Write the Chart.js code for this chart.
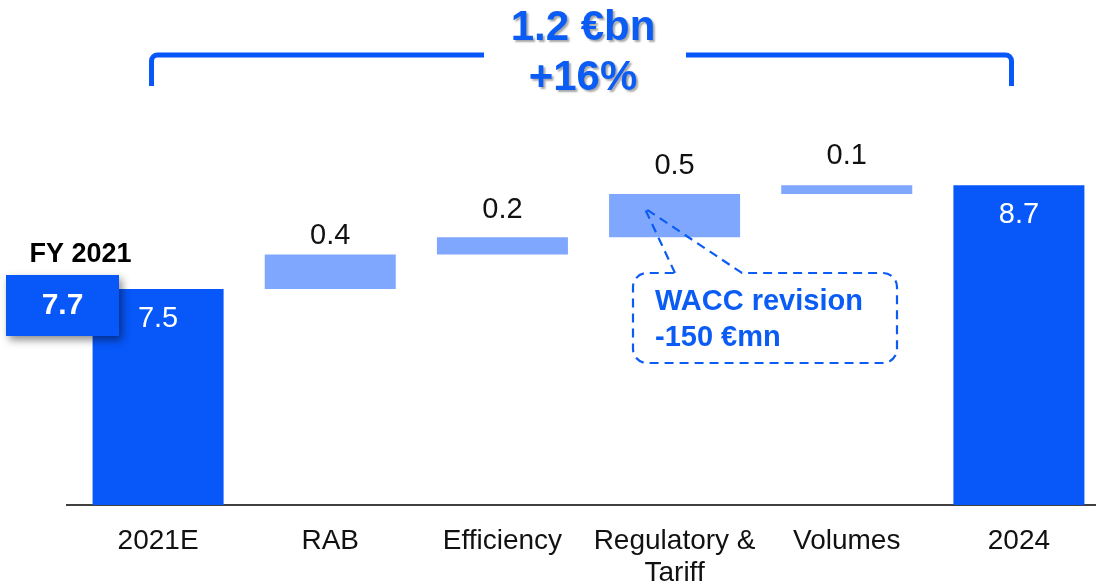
<!DOCTYPE html>
<html>
<head>
<meta charset="utf-8">
<script src="https://cdn.jsdelivr.net/npm/chart.js@4.4.1/dist/chart.umd.min.js"></script>
<style>
  html, body { margin: 0; padding: 0; background: #ffffff; overflow: hidden; }
  #wrap { position: absolute; left: 0; top: 0; width: 1110px; height: 586px; }
</style>
</head>
<body>
<div id="wrap"><canvas id="bridge"></canvas></div>
<script>
// EBITDA bridge 2021E -> 2024 (€bn)
const categories = ['2021E', 'RAB', 'Efficiency', ['Regulatory &', 'Tariff'], 'Volumes', '2024'];
const openingValue = 7.5;            // 2021E
const stepValues = [0.4, 0.2, 0.5, 0.1];  // RAB, Efficiency, Regulatory & Tariff, Volumes
const closingValue = 8.7;            // 2024
const fy2021Actual = 7.7;            // FY 2021 reported
const waccRevisionText = ['WACC revision', '-150 €mn'];

const FONT = "'Liberation Sans', Arial, Helvetica, sans-serif";
const BAR_BLUE = '#0757f9';
const STEP_BLUE = '#7fa7fd';
const TEXT_BLUE = '#0b5cf4';
const AXIS_GREY = '#404040';

// build floating bars for the bridge
const barData = [openingValue];
const barKinds = ['total'];
let running = openingValue;
stepValues.forEach(v => {
  barData.push([running, running + v]);
  barKinds.push('step');
  running += v;
});
barData.push(closingValue);
barKinds.push('total');
const barLabels = [openingValue, ...stepValues, closingValue];

const growthAbs = (closingValue - openingValue).toFixed(1) + ' €bn';
const growthPct = '+' + Math.round((closingValue - openingValue) / openingValue * 100) + '%';

Chart.defaults.font.family = FONT;

const overlay = {
  id: 'bridgeOverlay',
  afterDatasetsDraw(chart, args, opts) {
    const ctx = chart.ctx;
    const area = chart.chartArea;
    const bars = chart.getDatasetMeta(0).data;

    // extend the baseline a little to the left of the first category
    ctx.save();
    ctx.strokeStyle = AXIS_GREY;
    ctx.lineWidth = 2;
    ctx.beginPath();
    ctx.moveTo(66, area.bottom);
    ctx.lineTo(area.left + 1, area.bottom);
    ctx.stroke();
    ctx.restore();

    // value labels
    ctx.save();
    ctx.textAlign = 'center';
    ctx.textBaseline = 'middle';
    ctx.font = '29px ' + FONT;
    bars.forEach((bar, i) => {
      const txt = barLabels[i].toFixed(1);
      if (barKinds[i] === 'total') {
        ctx.fillStyle = '#ffffff';
        ctx.fillText(txt, bar.x, bar.y + 30);
      } else {
        ctx.fillStyle = '#111111';
        ctx.fillText(txt, bar.x, bar.y - opts.stepLabelGap[i - 1]);
      }
    });
    ctx.restore();

    // FY 2021 reported box
    ctx.save();
    ctx.fillStyle = '#000000';
    ctx.font = 'bold 27px ' + FONT;
    ctx.textAlign = 'center';
    ctx.textBaseline = 'middle';
    ctx.fillText('FY 2021', 80.5, 254.5);
    ctx.shadowColor = 'rgba(0,0,0,0.45)';
    ctx.shadowBlur = 8;
    ctx.shadowOffsetX = 3;
    ctx.shadowOffsetY = 4;
    ctx.fillStyle = BAR_BLUE;
    ctx.fillRect(6, 275, 113, 61);
    ctx.shadowColor = 'transparent';
    ctx.fillStyle = '#ffffff';
    ctx.font = 'bold 30px ' + FONT;
    ctx.fillText(fy2021Actual.toFixed(1), 62.5, 306);
    ctx.restore();

    // growth bracket across the bridge
    ctx.save();
    ctx.strokeStyle = BAR_BLUE;
    ctx.lineWidth = 5;
    ctx.beginPath();
    ctx.moveTo(151.5, 86);
    ctx.lineTo(151.5, 61);
    ctx.arcTo(151.5, 55, 157.5, 55, 6);
    ctx.lineTo(484, 55);
    ctx.moveTo(686, 55);
    ctx.lineTo(1005.5, 55);
    ctx.arcTo(1011.5, 55, 1011.5, 61, 6);
    ctx.lineTo(1011.5, 86);
    ctx.stroke();
    ctx.font = 'bold 42px ' + FONT;
    ctx.textAlign = 'center';
    ctx.textBaseline = 'middle';
    ctx.shadowColor = 'rgba(0,0,0,0.35)';
    ctx.shadowBlur = 2;
    ctx.shadowOffsetX = 2;
    ctx.shadowOffsetY = 2;
    ctx.fillStyle = TEXT_BLUE;
    ctx.fillText(growthAbs, 583, 28);
    ctx.fillText(growthPct, 583, 78);
    ctx.restore();

    // WACC callout pointing at the regulatory step
    const reg = bars[3];
    const tipX = reg.x - 30, tipY = 208;
    const L = 633, T = 273, R = 897, B = 363, r = 14;
    ctx.save();
    ctx.strokeStyle = TEXT_BLUE;
    ctx.lineWidth = 2.2;
    ctx.setLineDash([9, 6]);
    ctx.beginPath();
    ctx.moveTo(675, T);
    ctx.lineTo(tipX, tipY);
    ctx.lineTo(742, T);
    ctx.lineTo(R - r, T);
    ctx.arcTo(R, T, R, T + r, r);
    ctx.lineTo(R, B - r);
    ctx.arcTo(R, B, R - r, B, r);
    ctx.lineTo(L + r, B);
    ctx.arcTo(L, B, L, B - r, r);
    ctx.lineTo(L, T + r);
    ctx.arcTo(L, T, L + r, T, r);
    ctx.closePath();
    ctx.stroke();
    ctx.setLineDash([]);
    ctx.fillStyle = TEXT_BLUE;
    ctx.font = 'bold 29px ' + FONT;
    ctx.textAlign = 'left';
    ctx.textBaseline = 'middle';
    ctx.fillText(waccRevisionText[0], 655, 302);
    ctx.fillText(waccRevisionText[1], 655, 338);
    ctx.restore();
  }
};

new Chart(document.getElementById('bridge'), {
  type: 'bar',
  data: {
    labels: categories,
    datasets: [{
      data: barData,
      backgroundColor: barKinds.map(k => k === 'total' ? BAR_BLUE : STEP_BLUE),
      borderWidth: 0,
      borderSkipped: false,
      barPercentage: 1,
      categoryPercentage: 0.761,
      clip: 0
    }]
  },
  options: {
    responsive: true,
    maintainAspectRatio: false,
    devicePixelRatio: 1,
    animation: false,
    layout: { padding: { left: 72, right: 5, top: 73, bottom: 0 } },
    plugins: {
      legend: { display: false },
      tooltip: { enabled: false },
      bridgeOverlay: { stepLabelGap: [18.5, 27.5, 28, 29] }
    },
    scales: {
      x: {
        grid: { display: false, drawTicks: false },
        border: { display: true, color: AXIS_GREY, width: 2 },
        ticks: {
          color: '#111111',
          font: { size: 28, lineHeight: 1.15 },
          padding: 20,
          autoSkip: false,
          maxRotation: 0,
          minRotation: 0
        },
        afterFit(scale) { scale.height = 81; }
      },
      y: {
        display: false,
        min: 5,
        max: 10
      }
    }
  },
  plugins: [overlay]
});
</script>
</body>
</html>
